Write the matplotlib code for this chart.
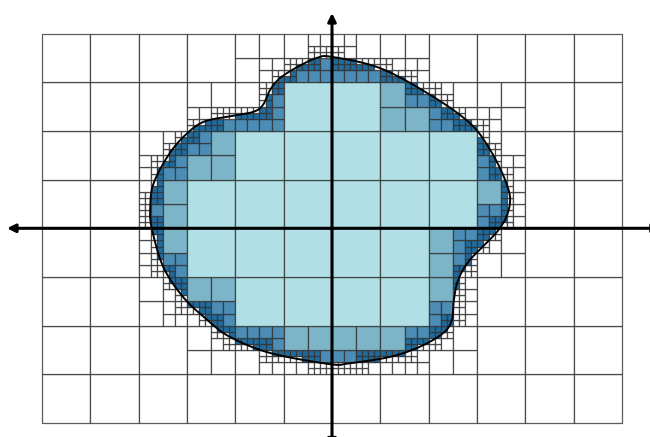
import numpy as np
import matplotlib
matplotlib.use("Agg")
import matplotlib.pyplot as plt
from matplotlib.path import Path
from matplotlib.patches import Rectangle, FancyArrowPatch
from matplotlib.collections import PatchCollection

# ==========================================
# Data (grid units)
# ==========================================

# coarse grid
grid_x = np.arange(-6, 7)
grid_y = np.arange(-4, 5)

# blob outline, clockwise from the top
blob_x = [0.00, 0.99, 2.03, 2.85, 3.27, 3.58, 3.68, 3.47, 2.85, 2.61, 2.52,
          2.48, 2.30, 1.82, 1.20, 0.37, -0.04, -1.28, -2.11, -2.58, -3.08,
          -3.49, -3.72, -3.76, -3.70, -3.41, -3.08, -2.67, -2.11, -1.63,
          -1.43, -1.28, -1.08, -0.72, -0.31]
blob_y = [3.52, 3.29, 2.74, 2.16, 1.61, 0.99, 0.52, 0.00, -0.65, -1.06,
          -1.47, -1.88, -2.15, -2.43, -2.64, -2.77, -2.79, -2.56, -2.23,
          -1.88, -1.41, -0.79, -0.03, 0.38, 0.89, 1.46, 1.87, 2.18, 2.30,
          2.39, 2.53, 2.84, 3.08, 3.31, 3.50]

# fill colour for each subdivision level
level_colors = ["#b0e0e6", "#7db5c8", "#4b8db5", "#1f6b9e"]
max_depth = 3


# ==========================================
# Smooth closed curve through the points
# ==========================================

def closed_curve(xs, ys, n=24):
    pts = np.column_stack([xs, ys])
    N = len(pts)
    t = np.linspace(0, 1, n, endpoint=False)[:, None]
    out = []
    for i in range(N):
        p0, p1, p2, p3 = pts[i - 1], pts[i], pts[(i + 1) % N], pts[(i + 2) % N]
        seg = 0.5 * ((2 * p1) + (-p0 + p2) * t
                     + (2 * p0 - 5 * p1 + 4 * p2 - p3) * t ** 2
                     + (-p0 + 3 * p1 - 3 * p2 + p3) * t ** 3)
        out.append(seg)
    out = np.vstack(out)
    return np.vstack([out, out[:1]])


curve = closed_curve(blob_x, blob_y)
blob = Path(curve)


# ==========================================
# Quadtree
# ==========================================

def classify(x0, y0, s):
    g = np.linspace(0, s, 9)
    gx, gy = np.meshgrid(x0 + g, y0 + g)
    inside = blob.contains_points(np.column_stack([gx.ravel(), gy.ravel()]))
    in_cell = np.any((curve[:, 0] > x0) & (curve[:, 0] < x0 + s)
                     & (curve[:, 1] > y0) & (curve[:, 1] < y0 + s))
    if inside.all() and not in_cell:
        return "in"
    if not inside.any() and not in_cell:
        return "out"
    return "mixed"


cells = []


def subdivide(x0, y0, s, level):
    c = classify(x0, y0, s)
    if c == "in":
        cells.append((x0, y0, s, level_colors[level]))
    elif c == "out":
        cells.append((x0, y0, s, "white"))
    elif level == max_depth:
        # finest cells on the outline: filled when the centre is inside
        centre_in = blob.contains_point((x0 + s / 2, y0 + s / 2))
        cells.append((x0, y0, s, level_colors[level] if centre_in else "white"))
    else:
        h = s / 2
        for dx in (0, h):
            for dy in (0, h):
                subdivide(x0 + dx, y0 + dy, h, level + 1)


for x in grid_x[:-1]:
    for y in grid_y[:-1]:
        subdivide(x, y, 1.0, 0)

# ==========================================
# Plot
# ==========================================

fig = plt.figure(figsize=(6.5, 4.37), dpi=100)
ax = fig.add_axes([0, 0, 1, 1])

patches = [Rectangle((x0, y0), s, s) for x0, y0, s, col in cells]
pc = PatchCollection(patches, facecolor=[c[3] for c in cells],
                     edgecolor=(0.2, 0.2, 0.2, 0.8), linewidth=0.9)
ax.add_collection(pc)

ax.plot(curve[:, 0], curve[:, 1], color="black", linewidth=1.4)

for start, end in [((-6.72, 0), (6.8, 0)), ((0, -4.5), (0, 4.42))]:
    ax.add_patch(FancyArrowPatch(start, end, arrowstyle="<|-|>",
                                 color="black", linewidth=2.2,
                                 mutation_scale=12, shrinkA=0, shrinkB=0,
                                 clip_on=False, zorder=5))

ax.set_xlim(-332 / 48.36, (650 - 332) / 48.36)
ax.set_ylim(-(437 - 228.3) / 48.7, 228.3 / 48.7)
ax.axis("off")

plt.savefig("out.png", dpi=100)
